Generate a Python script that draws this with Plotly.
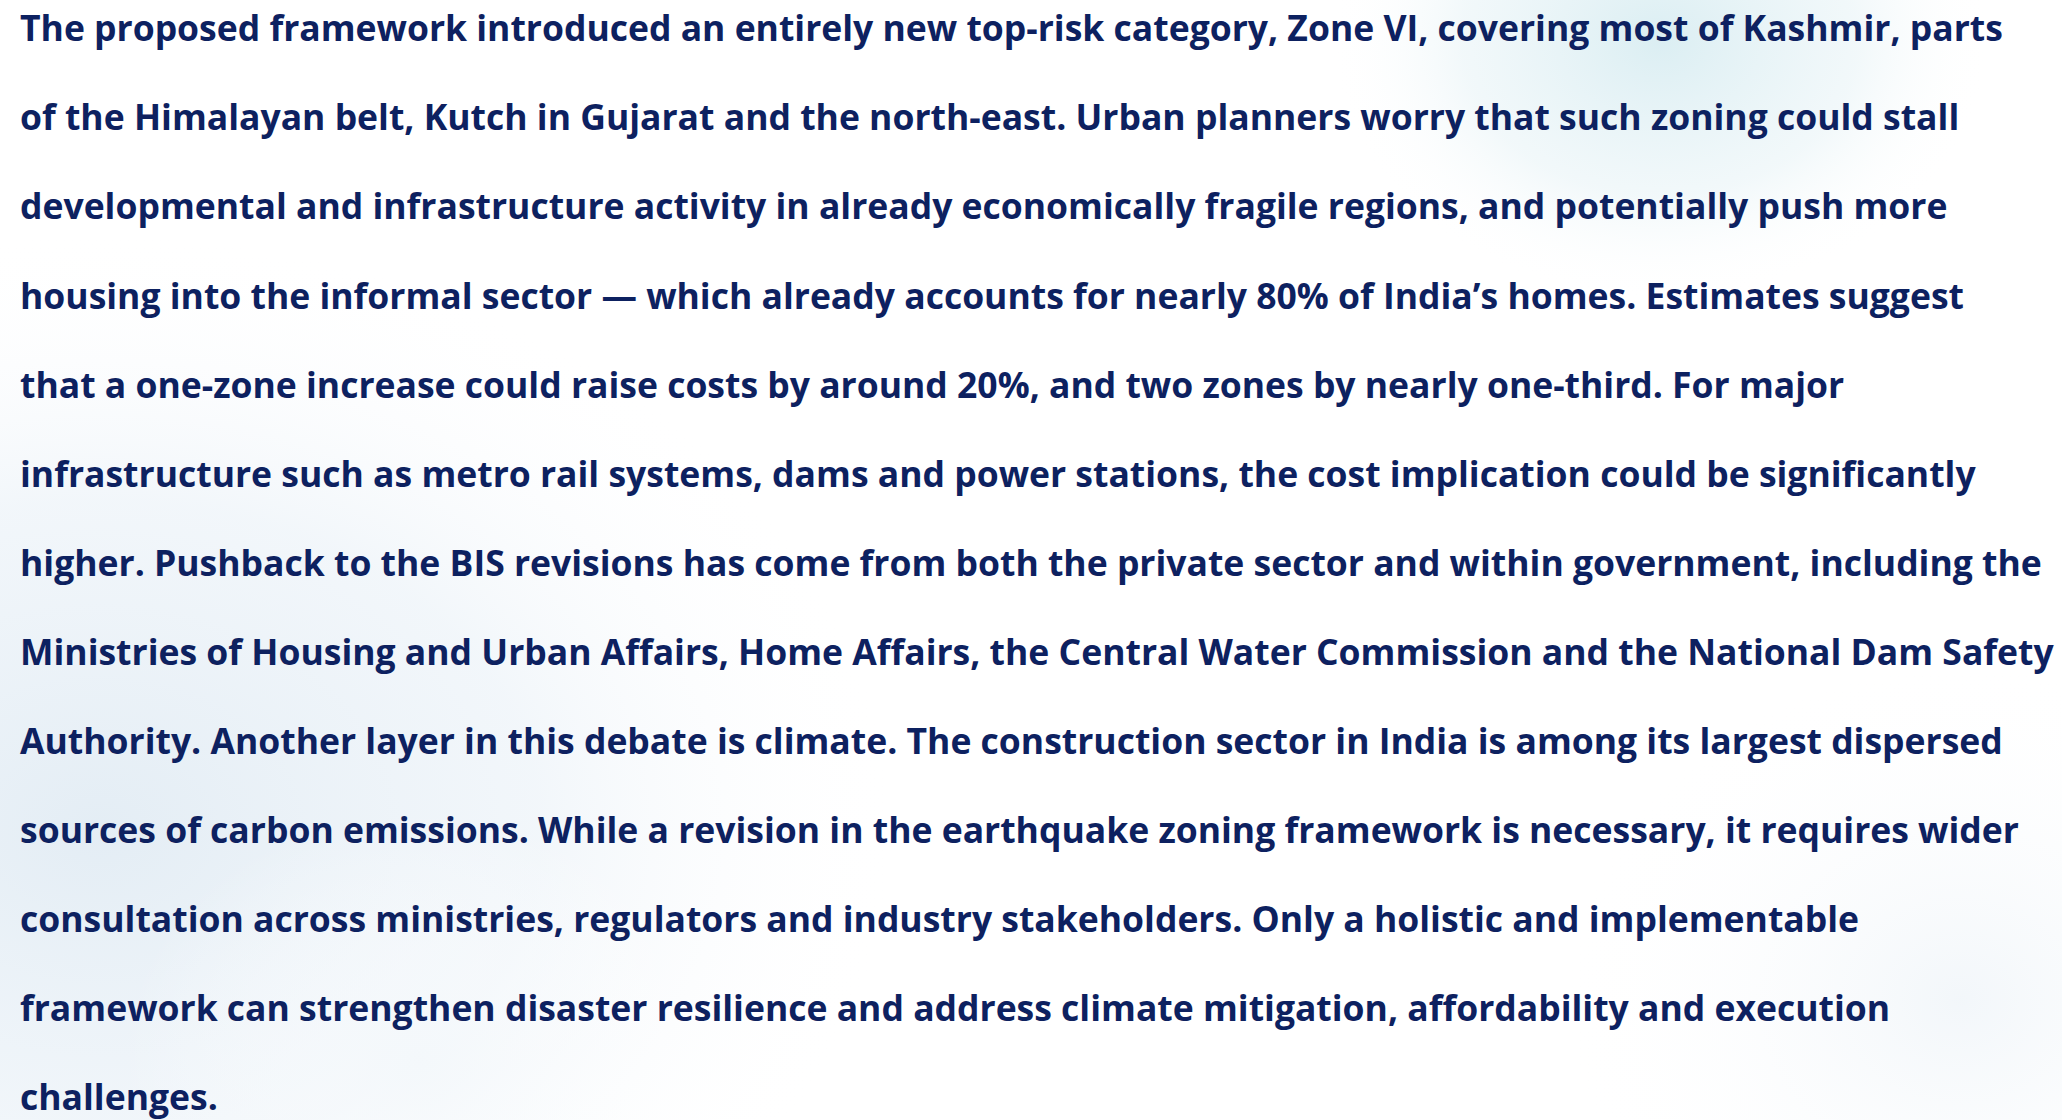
import base64
import plotly.graph_objects as go

# ---- content ----
LINES = [
    "The proposed framework introduced an entirely new top-risk category, Zone VI, covering most of Kashmir, parts",
    "of the Himalayan belt, Kutch in Gujarat and the north-east. Urban planners worry that such zoning could stall",
    "developmental and infrastructure activity in already economically fragile regions, and potentially push more",
    "housing into the informal sector \u2014 which already accounts for nearly 80% of India\u2019s homes. Estimates suggest",
    "that a one-zone increase could raise costs by around 20%, and two zones by nearly one-third. For major",
    "infrastructure such as metro rail systems, dams and power stations, the cost implication could be significantly",
    "higher. Pushback to the BIS revisions has come from both the private sector and within government, including the",
    "Ministries of Housing and Urban Affairs, Home Affairs, the Central Water Commission and the National Dam Safety",
    "Authority. Another layer in this debate is climate. The construction sector in India is among its largest dispersed",
    "sources of carbon emissions. While a revision in the earthquake zoning framework is necessary, it requires wider",
    "consultation across ministries, regulators and industry stakeholders. Only a holistic and implementable",
    "framework can strengthen disaster resilience and address climate mitigation, affordability and execution",
    "challenges.",
]

W, H = 2062, 1120
TEXT_COLOR = "#0d2160"
FONT = "Open Sans"
FONT_SIZE = 35.5
LEFT = 19
FIRST_BASELINE = 39
LINE_STEP = 89.1

# ---- soft background haze (decorative) ----
svg = f"""<svg xmlns='http://www.w3.org/2000/svg' width='{W}' height='{H}' viewBox='0 0 {W} {H}'>
<defs>
<radialGradient id='g1' cx='0.5' cy='0.5' r='0.5'>
<stop offset='0' stop-color='#e2ecf4' stop-opacity='0.95'/>
<stop offset='0.55' stop-color='#ebf2f8' stop-opacity='0.65'/>
<stop offset='1' stop-color='#ffffff' stop-opacity='0'/>
</radialGradient>
<radialGradient id='g2' cx='0.5' cy='0.5' r='0.5'>
<stop offset='0' stop-color='#d9edf2' stop-opacity='0.95'/>
<stop offset='0.6' stop-color='#e9f4f7' stop-opacity='0.6'/>
<stop offset='1' stop-color='#ffffff' stop-opacity='0'/>
</radialGradient>
<radialGradient id='g3' cx='0.5' cy='0.5' r='0.5'>
<stop offset='0' stop-color='#edf3f8' stop-opacity='0.7'/>
<stop offset='1' stop-color='#ffffff' stop-opacity='0'/>
</radialGradient>
<radialGradient id='g4' cx='0.5' cy='0.5' r='0.5'>
<stop offset='0' stop-color='#f4f8fb' stop-opacity='0.9'/>
<stop offset='1' stop-color='#ffffff' stop-opacity='0'/>
</radialGradient>
</defs>
<rect width='{W}' height='{H}' fill='#ffffff'/>
<ellipse cx='100' cy='830' rx='800' ry='600' fill='url(#g1)'/>
<ellipse cx='1660' cy='40' rx='330' ry='260' fill='url(#g2)'/>
<ellipse cx='1960' cy='1000' rx='400' ry='340' fill='url(#g3)'/>
<ellipse cx='420' cy='1060' rx='300' ry='250' fill='url(#g4)'/>
</svg>"""
bg_src = "data:image/svg+xml;base64," + base64.b64encode(svg.encode()).decode()

fig = go.Figure()

for i, line in enumerate(LINES):
    baseline = FIRST_BASELINE + LINE_STEP * i
    fig.add_annotation(
        x=LEFT, y=baseline - 0.33 * FONT_SIZE,
        xref="x", yref="y",
        text=line, showarrow=False,
        xanchor="left", yanchor="middle",
        font=dict(family=FONT, size=FONT_SIZE, color=TEXT_COLOR, weight="bold"),
        borderpad=0,
    )

fig.update_layout(
    width=W, height=H,
    margin=dict(l=0, r=0, t=0, b=0),
    paper_bgcolor="#ffffff",
    plot_bgcolor="rgba(0,0,0,0)",
    xaxis=dict(range=[0, W], visible=False, fixedrange=True),
    yaxis=dict(range=[H, 0], visible=False, fixedrange=True),
    showlegend=False,
    images=[dict(source=bg_src, xref="paper", yref="paper", x=0, y=1,
                 sizex=1, sizey=1, sizing="stretch", layer="below", xanchor="left", yanchor="top")],
)

fig.write_html("out.html", config={"displayModeBar": False},
               post_script="document.body.style.margin='0';document.body.style.overflow='hidden';")
